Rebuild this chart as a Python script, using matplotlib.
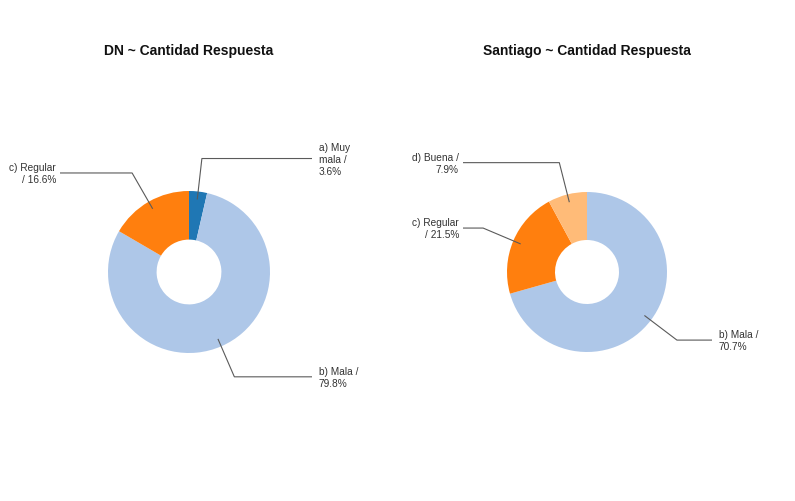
import textwrap
import numpy as np
import matplotlib
matplotlib.use("Agg")
import matplotlib.pyplot as plt

plt.rcParams['font.family'] = ['Liberation Sans', 'DejaVu Sans']

# data (percent of answers)
dn_labels = ['a) Muy mala', 'b) Mala', 'c) Regular']
dn_values = [3.6, 79.8, 16.6]
stgo_labels = ['b) Mala', 'c) Regular', 'd) Buena']
stgo_values = [70.7, 21.5, 7.9]
titles = ['DN ~ Cantidad Respuesta', 'Santiago ~ Cantidad Respuesta']

colors = {'a) Muy mala': '#1f77b4', 'b) Mala': '#aec7e8',
          'c) Regular': '#ff7f0e', 'd) Buena': '#ffbb78'}

W, H = 795, 502
fig = plt.figure(figsize=(W / 100, H / 100), dpi=100)
ax = fig.add_axes([0, 0, 1, 1])
ax.set_xlim(0, W)
ax.set_ylim(0, H)
ax.set_aspect('equal')
ax.axis('off')

# layout: centre x, centre y (pixels from top), radius, line ends left/right
charts = [
    (dn_labels, dn_values, titles[0], 189, 273, 81, -129, 123),
    (stgo_labels, stgo_values, titles[1], 587, 273, 80, -124, 125),
]

for labels, values, title, cx, cy_top, r, left_end, right_end in charts:
    cy = H - cy_top
    wedges, _ = ax.pie(values, colors=[colors[l] for l in labels],
                       startangle=90, counterclock=False, radius=r,
                       center=(cx, cy), frame=True,
                       wedgeprops=dict(width=r * 0.6, linewidth=0))
    ax.text(cx, H - 51, title, ha='center', va='center', fontsize=10,
            fontweight='bold', color='#111111')

    for w, lab, val in zip(wedges, labels, values):
        ang = np.deg2rad((w.theta1 + w.theta2) / 2)
        ca, sa = np.cos(ang), np.sin(ang)
        p0 = (cx + 0.9 * r * ca, cy + 0.9 * r * sa)
        p1 = (cx + 1.41 * r * ca, cy + 1.41 * r * sa)
        right = ca > 0
        xend = cx + (right_end if right else left_end)
        ax.plot([p0[0], p1[0], xend], [p0[1], p1[1], p1[1]],
                color='#5a5a5a', lw=0.8, solid_capstyle='butt')
        txt = textwrap.fill(f'{lab} / {val}%', width=10)
        ax.text(xend + (7 if right else -4), p1[1], txt,
                ha='left' if right else 'right', va='center',
                multialignment='left' if right else 'right',
                fontsize=7.3, color='#333333', linespacing=1.25)

ax.set_xlim(0, W)
ax.set_ylim(0, H)
ax.axis('off')
fig.savefig('out.png', dpi=100, facecolor='white')
